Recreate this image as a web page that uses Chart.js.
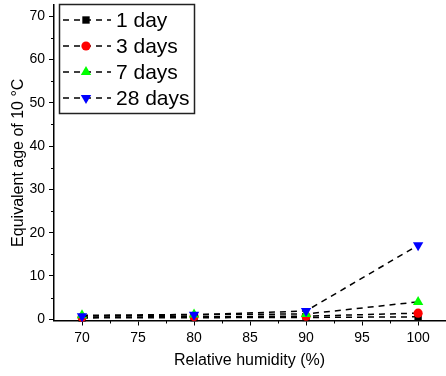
<!DOCTYPE html>
<html>
<head>
<meta charset="utf-8">
<script src="https://cdn.jsdelivr.net/npm/chart.js@4.4.0/dist/chart.umd.min.js"></script>
<style>
    html, body { margin: 0; padding: 0; background: #fff; }
    #wrap { width: 446px; height: 376px; }
</style>
</head>
<body>
<div id="wrap"><canvas id="ageChart" width="446" height="376"></canvas></div>
<script>
// Data
const humidity = [70, 80, 90, 100];
const seriesLabels = ['1 day', '3 days', '7 days', '28 days'];
const age1Day = [0.3, 0.35, 0.4, 0.55];
const age3Days = [0.45, 0.6, 0.7, 1.4];
const age7Days = [0.9, 1.1, 1.2, 4.0];
const age28Days = [0.7, 1.0, 1.9, 17.1];

const xTicks = [70, 75, 80, 85, 90, 95, 100];
const xMinorTicks = [72.5, 77.5, 82.5, 87.5, 92.5, 97.5];
const yTicks = [0, 10, 20, 30, 40, 50, 60, 70];
const yMinorTicks = [5, 15, 25, 35, 45, 55, 65];

const FONT = "'Liberation Sans', Arial, sans-serif";

const markers = [
    { style: 'rect', color: '#000000', radius: 5.2, rotation: 0 },
    { style: 'circle', color: '#ff0000', radius: 4.6, rotation: 0 },
    { style: 'triangle', color: '#00ff00', radius: 6, rotation: 0 },
    { style: 'triangle', color: '#0000ff', radius: 6, rotation: 180 }
];

const allSeries = [age1Day, age3Days, age7Days, age28Days];

const datasets = allSeries.map((values, i) => ({
    label: seriesLabels[i],
    data: values.map((v, j) => ({ x: humidity[j], y: v })),
    borderColor: '#000000',
    borderWidth: 1.5,
    borderDash: [6, 5],
    pointStyle: markers[i].style,
    pointRadius: markers[i].radius,
    pointRotation: markers[i].rotation,
    pointBackgroundColor: markers[i].color,
    pointBorderColor: markers[i].color,
    pointBorderWidth: 0,
    fill: false,
    tension: 0,
    clip: false,
    order: allSeries.length - i
}));

// Minor ticks + boxed legend drawn on top
const extrasPlugin = {
    id: 'extras',
    afterDraw(chart) {
        const ctx = chart.ctx;
        const xs = chart.scales.x;
        const ys = chart.scales.y;
        const area = chart.chartArea;

        ctx.save();
        ctx.strokeStyle = '#000';
        ctx.lineWidth = 1;
        xMinorTicks.forEach(v => {
            const px = Math.round(xs.getPixelForValue(v)) + 0.5;
            ctx.beginPath();
            ctx.moveTo(px, area.bottom);
            ctx.lineTo(px, area.bottom + 3);
            ctx.stroke();
        });
        yMinorTicks.forEach(v => {
            const py = Math.round(ys.getPixelForValue(v)) + 0.5;
            ctx.beginPath();
            ctx.moveTo(area.left, py);
            ctx.lineTo(area.left - 3, py);
            ctx.stroke();
        });

        // Legend box
        const box = { x: 59.5, y: 4.5, w: 135, h: 109 };
        ctx.fillStyle = '#fff';
        ctx.fillRect(box.x, box.y, box.w, box.h);
        ctx.lineWidth = 1.5;
        ctx.strokeStyle = '#222';
        ctx.strokeRect(box.x, box.y, box.w, box.h);

        const rowY = [20, 46, 72, 98];
        ctx.font = '21px ' + FONT;
        ctx.textBaseline = 'middle';
        ctx.textAlign = 'left';
        seriesLabels.forEach((label, i) => {
            const y = rowY[i];
            ctx.strokeStyle = '#000';
            ctx.lineWidth = 1.5;
            ctx.setLineDash([6, 5]);
            ctx.beginPath();
            ctx.moveTo(63, y);
            ctx.lineTo(111, y);
            ctx.stroke();
            ctx.setLineDash([]);
            drawMarker(ctx, markers[i], 86, y);
            ctx.fillStyle = '#000';
            ctx.fillText(label, 116, y + 1);
        });
        ctx.restore();
    }
};

function drawMarker(ctx, m, x, y) {
    ctx.fillStyle = m.color;
    ctx.beginPath();
    if (m.style === 'rect') {
        const s = Math.SQRT1_2 * m.radius;
        ctx.rect(x - s, y - s, 2 * s, 2 * s);
    } else if (m.style === 'circle') {
        ctx.arc(x, y, m.radius, 0, Math.PI * 2);
    } else {
        const r = m.radius;
        const dir = m.rotation === 180 ? -1 : 1;
        ctx.moveTo(x, y - dir * r);
        ctx.lineTo(x - r * 0.866, y + dir * r * 0.5);
        ctx.lineTo(x + r * 0.866, y + dir * r * 0.5);
        ctx.closePath();
    }
    ctx.fill();
}

new Chart(document.getElementById('ageChart'), {
    type: 'line',
    data: { datasets: datasets },
    options: {
        responsive: false,
        animation: false,
        layout: {
            autoPadding: false,
            padding: { top: 5, right: 1, left: 0, bottom: 0 }
        },
        plugins: {
            legend: { display: false },
            tooltip: { enabled: false }
        },
        scales: {
            x: {
                type: 'linear',
                min: 67.5,
                max: 102.4,
                afterBuildTicks: scale => { scale.ticks = xTicks.map(v => ({ value: v })); },
                afterFit: scale => {
                    scale.height = 55.5;
                    scale.paddingLeft = 0;
                    scale.paddingRight = 0;
                },
                border: { display: true, color: '#000', width: 1.5 },
                grid: {
                    drawOnChartArea: false,
                    drawTicks: true,
                    tickLength: 5,
                    tickColor: '#000',
                    tickWidth: 1
                },
                ticks: {
                    color: '#000',
                    padding: 4,
                    font: { family: FONT, size: 14 },
                    maxRotation: 0
                },
                title: {
                    display: true,
                    text: 'Relative humidity (%)',
                    color: '#000',
                    font: { family: FONT, size: 16 },
                    padding: { top: 0, bottom: 6 }
                }
            },
            y: {
                min: -0.3,
                max: 72.6,
                afterBuildTicks: scale => { scale.ticks = yTicks.map(v => ({ value: v })); },
                afterFit: scale => {
                    scale.width = 54;
                    scale.paddingTop = 0;
                    scale.paddingBottom = 0;
                },
                border: { display: true, color: '#000', width: 1.5 },
                grid: {
                    drawOnChartArea: false,
                    drawTicks: true,
                    tickLength: 5,
                    tickColor: '#000',
                    tickWidth: 1
                },
                ticks: {
                    color: '#000',
                    padding: 4,
                    font: { family: FONT, size: 14 }
                },
                title: {
                    display: true,
                    text: 'Equivalent age of 10 °C',
                    color: '#000',
                    font: { family: FONT, size: 16 },
                    padding: { top: 9, bottom: 0 }
                }
            }
        }
    },
    plugins: [extrasPlugin]
});
</script>
</body>
</html>
